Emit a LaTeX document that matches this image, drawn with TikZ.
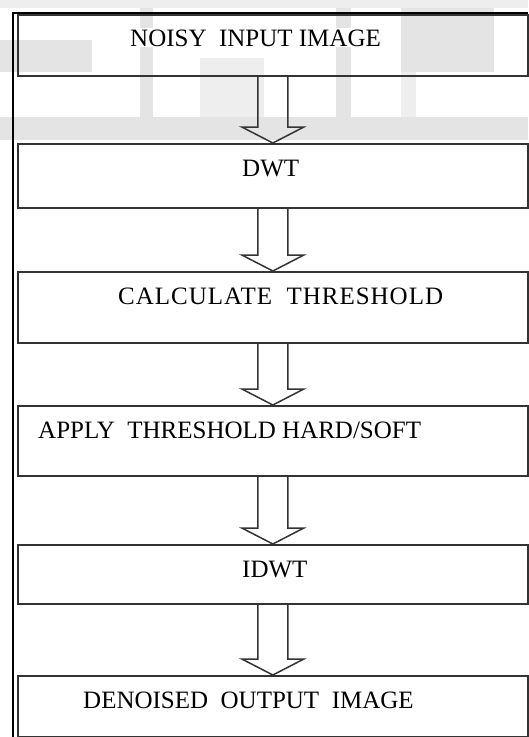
\documentclass[tikz,border=0pt]{standalone}
\usepackage{fontspec}
\setmainfont{Liberation Serif}
\usetikzlibrary{calc}
\definecolor{boxgray}{HTML}{333333}
\definecolor{wmgray}{HTML}{E4E4E4}
\definecolor{wmlight}{HTML}{EEEEEE}
\newcommand\blockarr[2]{%
  \draw[barrow] ($(#1.south)+(-15,0)$) -- ($(#2.north)+(-15,-16)$) -- ($(#2.north)+(-31,-16)$)
    -- (#2.north) -- ($(#2.north)+(31,-16)$) -- ($(#2.north)+(15,-16)$) -- ($(#1.south)+(15,0)$);}
\begin{document}
\begin{tikzpicture}[x=1pt,y=-1pt,
  box/.style={draw=boxgray,line width=1.7pt,minimum width=510pt,inner sep=0pt,anchor=north west},
  lbl/.style={anchor=base west,inner sep=1pt,fill=white,font=\fontsize{25}{30}\selectfont,text=black},
  barrow/.style={draw=boxgray,line width=1.5pt,line join=miter},
  wm/.style={fill=wmgray,draw=none},
  wml/.style={fill=wmlight,draw=none}]
\useasboundingbox (0,0) rectangle (528,737);
% faint watermark
\fill[wm] (0,40) rectangle (92,72);
\fill[wm] (140,0) rectangle (153,117);
\fill[wml] (200,58) rectangle (264,117);
\fill[wm] (336,0) rectangle (351,117);
\fill[wm] (401,0) rectangle (494,72);
\fill[wml] (401,72) rectangle (416,117);
\fill[wml] (0,0) rectangle (528,8);
\fill[wm] (0,117) rectangle (528,140);
% boxes
\node[box,minimum height=61pt] (b1) at (17,14) {};
\node[box,minimum height=64pt] (b2) at (17,143) {};
\node[box,minimum height=71pt] (b3) at (17,271) {};
\node[box,minimum height=70pt] (b4) at (17,405) {};
\node[box,minimum height=59pt] (b5) at (17,544) {};
\node[box,minimum height=61pt] (b6) at (17,675) {};
% frame
\draw[line width=2pt,black] (12.5,737) -- (12.5,13) -- (528,13);
% labels
\node[lbl] (t1) at (129,46) {NOISY\ \ INPUT IMAGE};
\node[lbl] (t2) at (241,176) {DWT};
\node[lbl] (t3) at (117,304) {\addfontfeatures{LetterSpace=4}CALCULATE\ \ THRESHOLD};
\node[lbl] (t4) at (37,438) {APPLY\ \ THRESHOLD HARD/SOFT};
\node[lbl] (t5) at (241,577) {IDWT};
\node[lbl] (t6) at (82,708) {DENOISED\ \ OUTPUT\ \ IMAGE};
% block arrows
\blockarr{b1}{b2}
\blockarr{b2}{b3}
\blockarr{b3}{b4}
\blockarr{b4}{b5}
\blockarr{b5}{b6}
\end{tikzpicture}
\end{document}
